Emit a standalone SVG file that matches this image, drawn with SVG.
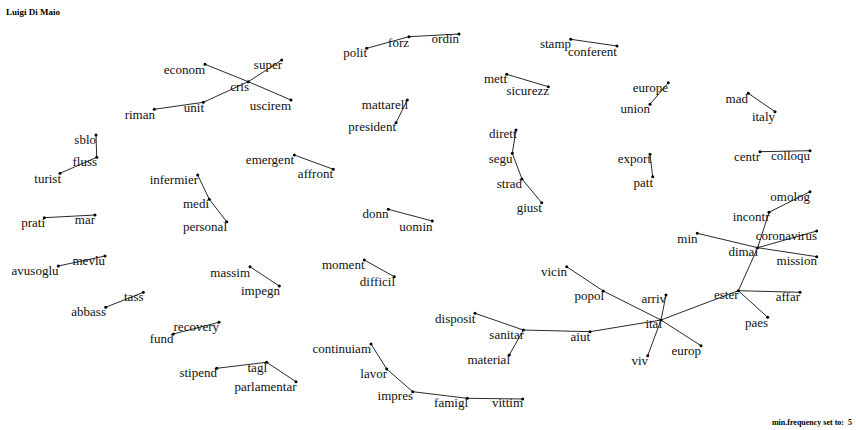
<svg xmlns="http://www.w3.org/2000/svg" width="856" height="430" viewBox="0 0 856 430">
<style>
.bg{fill:#fff}
.e{stroke:#2a2a2a;stroke-width:1;fill:none}
.d{fill:#000}
.t{font-family:"Liberation Serif","Times New Roman",serif;font-size:13px;fill:#111;text-anchor:end}
.h{font-family:"Liberation Serif","Times New Roman",serif;font-size:9px;font-weight:bold;fill:#000}
.f{font-family:"Liberation Serif","Times New Roman",serif;font-size:8px;font-weight:bold;fill:#000;text-anchor:end}
</style>
<rect class="bg" width="856" height="430"/>
<text class="h" x="6" y="15">Luigi Di Maio</text>
<text class="f" x="852" y="425" xml:space="preserve">min.frequency set to:  5</text>

<g id="edges">
<line class="e" x1="205" y1="64.3" x2="248.3" y2="81.7"/>
<line class="e" x1="248.3" y1="81.7" x2="291" y2="100"/>
<line class="e" x1="281.7" y1="60" x2="248.3" y2="81.7"/>
<line class="e" x1="248.3" y1="81.7" x2="203.3" y2="102.3"/>
<line class="e" x1="203.3" y1="102.3" x2="154.3" y2="109.3"/>
<line class="e" x1="366.7" y1="48.3" x2="409" y2="36.7"/>
<line class="e" x1="409" y1="36.7" x2="459" y2="34"/>
<line class="e" x1="570.7" y1="39.3" x2="617" y2="46"/>
<line class="e" x1="506.7" y1="74.3" x2="548.3" y2="86.7"/>
<line class="e" x1="407.3" y1="100" x2="396" y2="122.7"/>
<line class="e" x1="668.3" y1="82.7" x2="650" y2="104.3"/>
<line class="e" x1="748.3" y1="93.3" x2="775" y2="111.7"/>
<line class="e" x1="650" y1="154.3" x2="652.7" y2="176.7"/>
<line class="e" x1="760" y1="151.7" x2="810" y2="150.7"/>
<line class="e" x1="96" y1="135" x2="96.7" y2="157.3"/>
<line class="e" x1="96.7" y1="157.3" x2="60" y2="173.3"/>
<line class="e" x1="294.3" y1="155" x2="333.3" y2="169.3"/>
<line class="e" x1="197.7" y1="175" x2="209.3" y2="199.3"/>
<line class="e" x1="209.3" y1="199.3" x2="226.7" y2="221.7"/>
<line class="e" x1="44.3" y1="217.7" x2="95" y2="215"/>
<line class="e" x1="105" y1="256" x2="58.3" y2="266"/>
<line class="e" x1="250" y1="266.7" x2="279.3" y2="286"/>
<line class="e" x1="516" y1="130" x2="512.3" y2="153.3"/>
<line class="e" x1="512.3" y1="153.3" x2="522" y2="179"/>
<line class="e" x1="522" y1="179" x2="541.7" y2="202.7"/>
<line class="e" x1="388.3" y1="209.3" x2="432.3" y2="221"/>
<line class="e" x1="364.3" y1="260" x2="394.3" y2="276.7"/>
<line class="e" x1="566.7" y1="266.7" x2="603.3" y2="291"/>
<line class="e" x1="603.3" y1="291" x2="661" y2="320"/>
<line class="e" x1="475" y1="313.3" x2="523.3" y2="330"/>
<line class="e" x1="523.3" y1="330" x2="509.3" y2="355"/>
<line class="e" x1="523.3" y1="330" x2="590" y2="331.7"/>
<line class="e" x1="590" y1="331.7" x2="661" y2="320"/>
<line class="e" x1="661" y1="320" x2="666" y2="295"/>
<line class="e" x1="661" y1="320" x2="647.7" y2="355.7"/>
<line class="e" x1="661" y1="320" x2="701" y2="345.7"/>
<line class="e" x1="661" y1="320" x2="738.3" y2="290.7"/>
<line class="e" x1="738.3" y1="290.7" x2="800" y2="292.3"/>
<line class="e" x1="738.3" y1="290.7" x2="767.7" y2="317.3"/>
<line class="e" x1="738.3" y1="290.7" x2="757.7" y2="247.7"/>
<line class="e" x1="757.7" y1="247.7" x2="769" y2="212.3"/>
<line class="e" x1="769" y1="212.3" x2="810" y2="191.7"/>
<line class="e" x1="757.7" y1="247.7" x2="697.3" y2="233.3"/>
<line class="e" x1="757.7" y1="247.7" x2="816.7" y2="231"/>
<line class="e" x1="757.7" y1="247.7" x2="816.7" y2="256.7"/>
<line class="e" x1="371" y1="344" x2="386.7" y2="369"/>
<line class="e" x1="386.7" y1="369" x2="412.7" y2="391.7"/>
<line class="e" x1="412.7" y1="391.7" x2="467.3" y2="398.3"/>
<line class="e" x1="467.3" y1="398.3" x2="522.7" y2="399"/>
<line class="e" x1="143.3" y1="292.3" x2="105.7" y2="307.3"/>
<line class="e" x1="219" y1="322.3" x2="173.3" y2="334"/>
<line class="e" x1="216.7" y1="368.3" x2="266.7" y2="362.3"/>
<line class="e" x1="266.7" y1="362.3" x2="296" y2="381.7"/>
</g>

<g id="n-econom"><circle class="d" cx="205" cy="64.3" r="1.5"/><text class="t" x="205" y="74">econom</text></g>
<g id="n-super"><circle class="d" cx="281.7" cy="60" r="1.5"/><text class="t" x="282" y="68.5">super</text></g>
<g id="n-cris"><circle class="d" cx="248.3" cy="81.7" r="1.5"/><text class="t" x="249" y="90.7">cris</text></g>
<g id="n-uscirem"><circle class="d" cx="291" cy="100" r="1.5"/><text class="t" x="291" y="110">uscirem</text></g>
<g id="n-unit"><circle class="d" cx="203.3" cy="102.3" r="1.5"/><text class="t" x="204" y="112">unit</text></g>
<g id="n-riman"><circle class="d" cx="154.3" cy="109.3" r="1.5"/><text class="t" x="155" y="119.3">riman</text></g>
<g id="n-polit"><circle class="d" cx="366.7" cy="48.3" r="1.5"/><text class="t" x="367" y="57.3">polit</text></g>
<g id="n-forz"><circle class="d" cx="409" cy="36.7" r="1.5"/><text class="t" x="409" y="46.7">forz</text></g>
<g id="n-ordin"><circle class="d" cx="459" cy="34" r="1.5"/><text class="t" x="459" y="42.7">ordin</text></g>
<g id="n-stamp"><circle class="d" cx="570.7" cy="39.3" r="1.5"/><text class="t" x="571" y="48.3">stamp</text></g>
<g id="n-conferent"><circle class="d" cx="617" cy="46" r="1.5"/><text class="t" x="617" y="56">conferent</text></g>
<g id="n-mett"><circle class="d" cx="506.7" cy="74.3" r="1.5"/><text class="t" x="507" y="83.3">mett</text></g>
<g id="n-sicurezz"><circle class="d" cx="548.3" cy="86.7" r="1.5"/><text class="t" x="549" y="95">sicurezz</text></g>
<g id="n-mattarell"><circle class="d" cx="407.3" cy="100" r="1.5"/><text class="t" x="408" y="109.3">mattarell</text></g>
<g id="n-president"><circle class="d" cx="396" cy="122.7" r="1.5"/><text class="t" x="396" y="131">president</text></g>
<g id="n-europe"><circle class="d" cx="668.3" cy="82.7" r="1.5"/><text class="t" x="668" y="91.7">europe</text></g>
<g id="n-union"><circle class="d" cx="650" cy="104.3" r="1.5"/><text class="t" x="650" y="113.3">union</text></g>
<g id="n-mad"><circle class="d" cx="748.3" cy="93.3" r="1.5"/><text class="t" x="748" y="102.7">mad</text></g>
<g id="n-italy"><circle class="d" cx="775" cy="111.7" r="1.5"/><text class="t" x="775" y="120.7">italy</text></g>
<g id="n-export"><circle class="d" cx="650" cy="154.3" r="1.5"/><text class="t" x="651" y="163.3">export</text></g>
<g id="n-patt"><circle class="d" cx="652.7" cy="176.7" r="1.5"/><text class="t" x="653" y="186.7">patt</text></g>
<g id="n-centr"><circle class="d" cx="760" cy="151.7" r="1.5"/><text class="t" x="760" y="160.7">centr</text></g>
<g id="n-colloqu"><circle class="d" cx="810" cy="150.7" r="1.5"/><text class="t" x="810" y="159.5">colloqu</text></g>
<g id="n-sblo"><circle class="d" cx="96" cy="135" r="1.5"/><text class="t" x="96" y="144">sblo</text></g>
<g id="n-fluss"><circle class="d" cx="96.7" cy="157.3" r="1.5"/><text class="t" x="97" y="166">fluss</text></g>
<g id="n-turist"><circle class="d" cx="60" cy="173.3" r="1.5"/><text class="t" x="61" y="182.7">turist</text></g>
<g id="n-emergent"><circle class="d" cx="294.3" cy="155" r="1.5"/><text class="t" x="294" y="164.3">emergent</text></g>
<g id="n-affront"><circle class="d" cx="333.3" cy="169.3" r="1.5"/><text class="t" x="333" y="177.5">affront</text></g>
<g id="n-infermier"><circle class="d" cx="197.7" cy="175" r="1.5"/><text class="t" x="198" y="184.3">infermier</text></g>
<g id="n-medi"><circle class="d" cx="209.3" cy="199.3" r="1.5"/><text class="t" x="209" y="208.3">medi</text></g>
<g id="n-personal"><circle class="d" cx="226.7" cy="221.7" r="1.5"/><text class="t" x="227" y="231">personal</text></g>
<g id="n-prati"><circle class="d" cx="44.3" cy="217.7" r="1.5"/><text class="t" x="45" y="226.7">prati</text></g>
<g id="n-mar"><circle class="d" cx="95" cy="215" r="1.5"/><text class="t" x="95" y="224">mar</text></g>
<g id="n-mevlu"><circle class="d" cx="105" cy="256" r="1.5"/><text class="t" x="105" y="265">mevlu</text></g>
<g id="n-avusoglu"><circle class="d" cx="58.3" cy="266" r="1.5"/><text class="t" x="58.5" y="275">avusoglu</text></g>
<g id="n-massim"><circle class="d" cx="250" cy="266.7" r="1.5"/><text class="t" x="250" y="276.7">massim</text></g>
<g id="n-impegn"><circle class="d" cx="279.3" cy="286" r="1.5"/><text class="t" x="280" y="295">impegn</text></g>
<g id="n-dirett"><circle class="d" cx="516" cy="130" r="1.5"/><text class="t" x="516.5" y="138.3">dirett</text></g>
<g id="n-segu"><circle class="d" cx="512.3" cy="153.3" r="1.5"/><text class="t" x="512.5" y="163.3">segu</text></g>
<g id="n-strad"><circle class="d" cx="522" cy="179" r="1.5"/><text class="t" x="522" y="187.7">strad</text></g>
<g id="n-giust"><circle class="d" cx="541.7" cy="202.7" r="1.5"/><text class="t" x="542" y="211.7">giust</text></g>
<g id="n-donn"><circle class="d" cx="388.3" cy="209.3" r="1.5"/><text class="t" x="388.5" y="218.3">donn</text></g>
<g id="n-uomin"><circle class="d" cx="432.3" cy="221" r="1.5"/><text class="t" x="432.5" y="230.7">uomin</text></g>
<g id="n-moment"><circle class="d" cx="364.3" cy="260" r="1.5"/><text class="t" x="364.5" y="269">moment</text></g>
<g id="n-difficil"><circle class="d" cx="394.3" cy="276.7" r="1.5"/><text class="t" x="395" y="286">difficil</text></g>
<g id="n-vicin"><circle class="d" cx="566.7" cy="266.7" r="1.5"/><text class="t" x="567" y="276">vicin</text></g>
<g id="n-popol"><circle class="d" cx="603.3" cy="291" r="1.5"/><text class="t" x="604" y="300">popol</text></g>
<g id="n-disposit"><circle class="d" cx="475" cy="313.3" r="1.5"/><text class="t" x="475.5" y="322.7">disposit</text></g>
<g id="n-sanitar"><circle class="d" cx="523.3" cy="330" r="1.5"/><text class="t" x="524" y="339.3">sanitar</text></g>
<g id="n-aiut"><circle class="d" cx="590" cy="331.7" r="1.5"/><text class="t" x="590" y="340.7">aiut</text></g>
<g id="n-material"><circle class="d" cx="509.3" cy="355" r="1.5"/><text class="t" x="510" y="364">material</text></g>
<g id="n-continuiam"><circle class="d" cx="371" cy="344" r="1.5"/><text class="t" x="371" y="352.7">continuiam</text></g>
<g id="n-lavor"><circle class="d" cx="386.7" cy="369" r="1.5"/><text class="t" x="387" y="377.7">lavor</text></g>
<g id="n-impres"><circle class="d" cx="412.7" cy="391.7" r="1.5"/><text class="t" x="413" y="400">impres</text></g>
<g id="n-famigl"><circle class="d" cx="467.3" cy="398.3" r="1.5"/><text class="t" x="468" y="407.3">famigl</text></g>
<g id="n-vittim"><circle class="d" cx="522.7" cy="399" r="1.5"/><text class="t" x="523" y="407.3">vittim</text></g>
<g id="n-omolog"><circle class="d" cx="810" cy="191.7" r="1.5"/><text class="t" x="810" y="200.7">omolog</text></g>
<g id="n-incontr"><circle class="d" cx="769" cy="212.3" r="1.5"/><text class="t" x="769.5" y="220.7">incontr</text></g>
<g id="n-min"><circle class="d" cx="697.3" cy="233.3" r="1.5"/><text class="t" x="697.5" y="242.7">min</text></g>
<g id="n-coronavirus"><circle class="d" cx="816.7" cy="231" r="1.5"/><text class="t" x="817" y="240">coronavirus</text></g>
<g id="n-dimai"><circle class="d" cx="757.7" cy="247.7" r="1.5"/><text class="t" x="758" y="256">dimai</text></g>
<g id="n-mission"><circle class="d" cx="816.7" cy="256.7" r="1.5"/><text class="t" x="817" y="265">mission</text></g>
<g id="n-ester"><circle class="d" cx="738.3" cy="290.7" r="1.5"/><text class="t" x="738.5" y="299">ester</text></g>
<g id="n-affar"><circle class="d" cx="800" cy="292.3" r="1.5"/><text class="t" x="800" y="300.7">affar</text></g>
<g id="n-paes"><circle class="d" cx="767.7" cy="317.3" r="1.5"/><text class="t" x="768" y="326.7">paes</text></g>
<g id="n-arriv"><circle class="d" cx="666" cy="295" r="1.5"/><text class="t" x="666" y="303.3">arriv</text></g>
<g id="n-ital"><circle class="d" cx="661" cy="320" r="1.5"/><text class="t" x="662" y="328.3">ital</text></g>
<g id="n-europ"><circle class="d" cx="701" cy="345.7" r="1.5"/><text class="t" x="701" y="355">europ</text></g>
<g id="n-viv"><circle class="d" cx="647.7" cy="355.7" r="1.5"/><text class="t" x="648" y="365">viv</text></g>
<g id="n-tass"><circle class="d" cx="143.3" cy="292.3" r="1.5"/><text class="t" x="143.5" y="300.7">tass</text></g>
<g id="n-abbass"><circle class="d" cx="105.7" cy="307.3" r="1.5"/><text class="t" x="106" y="316">abbass</text></g>
<g id="n-recovery"><circle class="d" cx="219" cy="322.3" r="1.5"/><text class="t" x="219" y="331">recovery</text></g>
<g id="n-fund"><circle class="d" cx="173.3" cy="334" r="1.5"/><text class="t" x="173.5" y="342.7">fund</text></g>
<g id="n-stipend"><circle class="d" cx="216.7" cy="368.3" r="1.5"/><text class="t" x="217" y="377.3">stipend</text></g>
<g id="n-tagl"><circle class="d" cx="266.7" cy="362.3" r="1.5"/><text class="t" x="267" y="371.7">tagl</text></g>
<g id="n-parlamentar"><circle class="d" cx="296" cy="381.7" r="1.5"/><text class="t" x="296.5" y="390.7">parlamentar</text></g>
</svg>
